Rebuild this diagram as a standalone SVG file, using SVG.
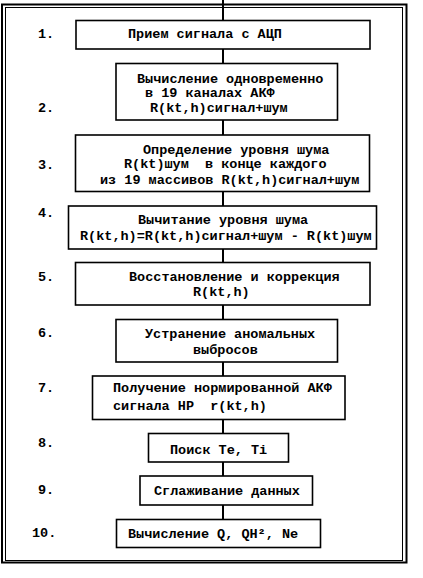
<svg xmlns="http://www.w3.org/2000/svg" width="423" height="578" viewBox="0 0 423 578">
<style>
.box{fill:#fff;stroke:#000;stroke-width:1.6}
.t{font-family:"Liberation Mono","DejaVu Sans Mono",monospace;font-size:13.5px;font-weight:bold;fill:#000;white-space:pre}
.n{font-family:"Liberation Mono","DejaVu Sans Mono",monospace;font-size:13.5px;font-weight:bold;fill:#000}
.c{stroke:#000;stroke-width:2;fill:none}
</style>
<rect width="423" height="578" fill="#fff"/>
<g id="frame">
<rect x="2" y="4.5" width="404.5" height="558" fill="none" stroke="#000" stroke-width="2"/>
<rect x="5.5" y="7.5" width="397" height="553" fill="none" stroke="#000" stroke-width="1"/>
</g>
<g id="connectors">
<line class="c" x1="223" y1="0" x2="223" y2="20.5"/>
<line class="c" x1="223" y1="49" x2="223" y2="63.5"/>
<line class="c" x1="223" y1="120" x2="223" y2="135"/>
<line class="c" x1="223" y1="191.5" x2="223" y2="206"/>
<line class="c" x1="223" y1="249" x2="223" y2="262.5"/>
<line class="c" x1="223" y1="305" x2="223" y2="319.5"/>
<line class="c" x1="223" y1="362" x2="223" y2="376"/>
<line class="c" x1="223" y1="419.5" x2="223" y2="433.5"/>
<line class="c" x1="223" y1="462" x2="223" y2="476"/>
<line class="c" x1="223" y1="505" x2="223" y2="519.5"/>
</g>
<g id="node1">
<rect class="box" x="76" y="20.5" width="294" height="28.5"/>
<text class="n" x="38" y="38">1.</text>
<text class="t" x="128" y="38">Прием сигнала с АЦП</text>
</g>
<g id="node2">
<rect class="box" x="116" y="63.5" width="221.5" height="56.5"/>
<text class="n" x="38" y="112">2.</text>
<text class="t" x="137" y="83">Вычисление одновременно</text>
<text class="t" x="145" y="97">в 19 каналах АКФ</text>
<text class="t" x="150" y="112">R(kt,h)сигнал+шум</text>
</g>
<g id="node3">
<rect class="box" x="75.5" y="135" width="294" height="56.5"/>
<text class="n" x="38" y="169">3.</text>
<text class="t" x="143" y="153.5">Определение уровня шума</text>
<text class="t" x="124" y="168" xml:space="preserve">R(kt)шум  в конце каждого</text>
<text class="t" x="100" y="183.5">из 19 массивов R(kt,h)сигнал+шум</text>
</g>
<g id="node4">
<rect class="box" x="68.5" y="206" width="308" height="43"/>
<text class="n" x="38" y="217">4.</text>
<text class="t" x="138" y="223.5">Вычитание уровня шума</text>
<text class="t" x="80" y="239.5">R(kt,h)=R(kt,h)сигнал+шум - R(kt)шум</text>
</g>
<g id="node5">
<rect class="box" x="75.5" y="262.5" width="294.5" height="42.5"/>
<text class="n" x="38" y="281">5.</text>
<text class="t" x="129" y="281">Восстановление и коррекция</text>
<text class="t" x="193" y="296">R(kt,h)</text>
</g>
<g id="node6">
<rect class="box" x="116" y="319.5" width="221.5" height="42.5"/>
<text class="n" x="38" y="337">6.</text>
<text class="t" x="145" y="337.5">Устранение аномальных</text>
<text class="t" x="193" y="353.5">выбросов</text>
</g>
<g id="node7">
<rect class="box" x="92.5" y="376" width="252.5" height="43.5"/>
<text class="n" x="38" y="392">7.</text>
<text class="t" x="113" y="392">Получение нормированной АКФ</text>
<text class="t" x="113" y="410" xml:space="preserve">сигнала НР  r(kt,h)</text>
</g>
<g id="node8">
<rect class="box" x="148.5" y="433.5" width="140" height="28.5"/>
<text class="n" x="38" y="447">8.</text>
<text class="t" x="170" y="453.5">Поиск Te, Ti</text>
</g>
<g id="node9">
<rect class="box" x="140" y="476" width="172.5" height="29"/>
<text class="n" x="38" y="494">9.</text>
<text class="t" x="154" y="495">Сглаживание данных</text>
</g>
<g id="node10">
<rect class="box" x="116.5" y="519.5" width="204" height="28"/>
<text class="n" x="32" y="537">10.</text>
<text class="t" x="128" y="538">Вычисление Q, QН², Ne</text>
</g>
</svg>
